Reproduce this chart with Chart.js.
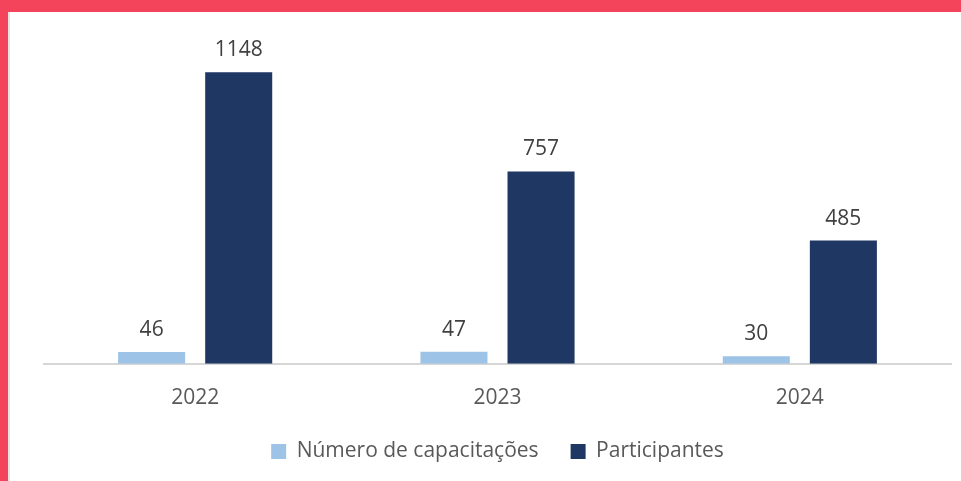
<!DOCTYPE html>
<html>
<head>
<meta charset="utf-8">
<script src="https://cdn.jsdelivr.net/npm/chart.js@4"></script>
<style>
  html, body { margin: 0; padding: 0; background: #ffffff; }
  #wrap { position: relative; width: 961px; height: 481px; overflow: hidden; }
  canvas { position: absolute; left: 0; top: 0; }
  #bandTop { position: absolute; left: 0; top: 0; width: 961px; height: 12px; background: #f4445c; }
  #bandLeft { position: absolute; left: 0; top: 0; width: 8px; height: 481px; background: #f4445c; }
  #edge { position: absolute; left: 8px; top: 12px; width: 2px; height: 469px; background: #e4e4e4; }
</style>
</head>
<body>
<div id="wrap">
  <canvas id="c" width="961" height="481"></canvas>
  <div id="bandTop"></div>
  <div id="bandLeft"></div>
  <div id="edge"></div>
</div>
<script>
const categories = ['2022', '2023', '2024'];
const seriesNames = ['Número de capacitações', 'Participantes'];
const capacitacoes = [46, 47, 30];
const participantes = [1148, 757, 485];

const FONT = "'Open Sans', 'Noto Sans', sans-serif";

const valueLabels = {
  id: 'valueLabels',
  afterDatasetsDraw(chart) {
    const ctx = chart.ctx;
    ctx.save();
    ctx.font = "21px " + FONT;
    ctx.fillStyle = '#404040';
    ctx.textAlign = 'center';
    ctx.textBaseline = 'middle';
    chart.data.datasets.forEach((ds, i) => {
      const meta = chart.getDatasetMeta(i);
      meta.data.forEach((el, j) => {
        ctx.fillText(String(ds.data[j]), el.x, el.y - 22);
      });
    });
    ctx.restore();
  }
};

new Chart(document.getElementById('c'), {
  type: 'bar',
  data: {
    labels: categories,
    datasets: [
      { label: seriesNames[0], data: capacitacoes, backgroundColor: '#9dc3e6', barPercentage: 0.77, categoryPercentage: 0.576 },
      { label: seriesNames[1], data: participantes, backgroundColor: '#1f3763', barPercentage: 0.77, categoryPercentage: 0.576 }
    ]
  },
  options: {
    responsive: false,
    animation: false,
    devicePixelRatio: 1,
    layout: { padding: { top: 31, left: 44, right: 10, bottom: 9 } },
    scales: {
      x: {
        grid: { display: false, drawTicks: false },
        border: { display: true, color: '#d6d6d6', width: 2 },
        ticks: { color: '#595959', font: { family: FONT, size: 21 }, padding: 22 },
        afterFit(scale) { scale.height -= 24; }
      },
      y: {
        display: false,
        min: 0,
        max: 1310
      }
    },
    plugins: {
      legend: {
        position: 'bottom',
        labels: {
          color: '#595959',
          font: { family: FONT, size: 21 },
          boxWidth: 15,
          boxHeight: 15,
          padding: 32
        }
      },
      tooltip: { enabled: false }
    }
  },
  plugins: [valueLabels]
});
</script>
</body>
</html>
